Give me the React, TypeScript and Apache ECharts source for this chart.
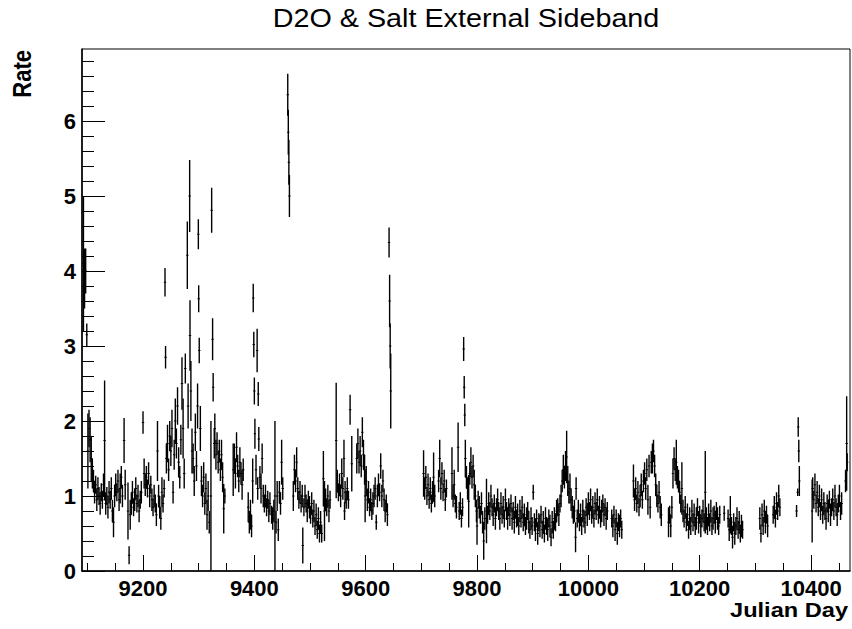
import React, { useEffect, useRef } from "react";
import * as echarts from "echarts";

// [Julian day, rate, error]
const periodA: [number, number, number][] = [
  [9093, 4.1, 0.9], [9095, 3.9, 0.4], [9097, 4.0, 0.3], [9099, 3.15, 0.15], [9101, 1.6, 0.5],
  [9103, 1.9, 0.25], [9105, 1.75, 0.3], [9107, 1.5, 0.3], [9109, 1.3, 0.2], [9111, 1.2, 0.15],
  [9113, 1.05, 0.15], [9115, 1.15, 0.12], [9117, 0.95, 0.15], [9119, 1.1, 0.15], [9121, 1.0, 0.12],
  [9123, 0.9, 0.15], [9125, 1.05, 0.12], [9127, 0.95, 0.12], [9129, 1.15, 0.15], [9131, 1.74, 0.8],
  [9133, 0.9, 0.15], [9135, 1.0, 0.12], [9137, 0.85, 0.15], [9139, 1.05, 0.15], [9141, 0.95, 0.12],
  [9143, 1.1, 0.15], [9145, 0.8, 0.15], [9147, 0.65, 0.2], [9149, 1.0, 0.15], [9151, 1.15, 0.15],
  [9153, 1.05, 0.12], [9155, 1.2, 0.15], [9157, 0.95, 0.15], [9159, 1.1, 0.2], [9161, 1.25, 0.15],
  [9163, 1.0, 0.15], [9166, 1.74, 0.3], [9168, 1.15, 0.2], [9173, 0.8, 0.38], [9175, 0.21, 0.12],
  [9177, 0.75, 0.2], [9179, 0.9, 0.15], [9181, 1.05, 0.15], [9183, 0.85, 0.12], [9185, 0.95, 0.15],
  [9187, 1.1, 0.15], [9189, 0.9, 0.12], [9191, 1.0, 0.15], [9193, 0.8, 0.15], [9195, 0.95, 0.12],
  [9197, 1.05, 0.15], [9200, 1.98, 0.15], [9202, 1.3, 0.2], [9204, 1.15, 0.15], [9206, 1.25, 0.15],
  [9208, 1.1, 0.12], [9210, 1.3, 0.15], [9212, 1.0, 0.15], [9214, 1.15, 0.12], [9216, 0.95, 0.15],
  [9218, 0.85, 0.12], [9220, 1.0, 0.15], [9222, 0.9, 0.12], [9224, 0.75, 0.15], [9226, 1.6, 0.4],
  [9228, 1.0, 0.15], [9230, 0.85, 0.15], [9232, 0.7, 0.15], [9234, 1.05, 0.2], [9236, 0.9, 0.12],
  [9238, 1.1, 0.12], [9239.5, 3.85, 0.19], [9240.5, 2.85, 0.15], [9242, 1.5, 0.2], [9244, 1.7, 0.25],
  [9246, 1.35, 0.15], [9248, 1.8, 0.2], [9250, 1.6, 0.2], [9252, 1.9, 0.25], [9254, 1.05, 0.15],
  [9256, 1.55, 0.2], [9258, 2.0, 0.3], [9260, 1.7, 0.2], [9262, 2.2, 0.25], [9264, 1.45, 0.2],
  [9266, 1.25, 0.15], [9268, 1.75, 0.2], [9270, 2.5, 0.35], [9272, 1.9, 0.4], [9274, 1.3, 0.2],
  [9276, 2.7, 0.2], [9279.6, 4.21, 0.45], [9281, 2.2, 0.3], [9283.8, 5.0, 0.48], [9284.4, 3.14, 0.47],
  [9286, 2.4, 0.4], [9288, 1.6, 0.3], [9290, 1.5, 0.2], [9292, 1.2, 0.2], [9294, 1.85, 0.25],
  [9296, 1.4, 0.2], [9298, 2.2, 0.3], [9299.4, 4.49, 0.2], [9300, 3.63, 0.18], [9301, 2.94, 0.17],
  [9303, 1.9, 0.3], [9305, 1.2, 0.2], [9307, 1.0, 0.15], [9309, 1.25, 0.2], [9311, 0.9, 0.15],
  [9313, 1.1, 0.2], [9315, 0.75, 0.2], [9317, 1.0, 0.2], [9319, 0.65, 0.15], [9322, 1.0, 1.0],
  [9323.3, 4.81, 0.3], [9325, 3.09, 0.28], [9326, 2.45, 0.19], [9328, 1.7, 0.2], [9329, 1.9, 0.2],
];

const periodB: [number, number, number][] = [
  [9331, 1.55, 0.2], [9333, 1.7, 0.15], [9335, 1.45, 0.15], [9337, 1.6, 0.15], [9339, 1.35, 0.15],
  [9341, 1.55, 0.2], [9343, 1.25, 0.2], [9345, 0.83, 0.33], [9347, 1.0, 0.1], [9362, 1.35, 0.35],
  [9364, 1.5, 0.2], [9366, 1.3, 0.2], [9368, 1.65, 0.2], [9370, 1.4, 0.15], [9372, 1.2, 0.15],
  [9374, 1.45, 0.2], [9376, 1.3, 0.15], [9378, 1.15, 0.2], [9380, 1.35, 0.15], [9389, 0.85, 0.2],
  [9391, 0.65, 0.15], [9393, 0.75, 0.2], [9395, 0.6, 0.15], [9397, 1.2, 0.3], [9398, 3.64, 0.19],
  [9399, 3.02, 0.17], [9400, 2.4, 0.18], [9401, 1.83, 0.2], [9403, 1.35, 0.2], [9405, 2.94, 0.29],
  [9406, 1.1, 0.15], [9407, 2.36, 0.16], [9408, 1.76, 0.16], [9410, 1.25, 0.15], [9412, 1.1, 0.2],
  [9414, 1.5, 0.2], [9416, 1.0, 0.15], [9418, 0.9, 0.12], [9420, 1.0, 0.15], [9422, 0.85, 0.12],
  [9424, 0.95, 0.12], [9426, 0.8, 0.15], [9428, 0.9, 0.15], [9431, 0.75, 0.12], [9433, 0.7, 0.15],
  [9435, 0.8, 0.15], [9437, 1.0, 1.0], [9439, 0.65, 0.15], [9441, 1.0, 0.2], [9443, 0.55, 0.15],
  [9445, 1.05, 0.15], [9447, 0.9, 0.15], [9449, 1.45, 0.3], [9451, 1.1, 0.15], [9460, 6.35, 0.28],
  [9461, 5.85, 0.3], [9462, 5.45, 0.3], [9463, 5.0, 0.28], [9470, 1.0, 0.2], [9472, 1.35, 0.2],
  [9474, 1.2, 0.15], [9476, 1.45, 0.2], [9478, 1.1, 0.15], [9480, 0.95, 0.12], [9482, 1.05, 0.15],
  [9484, 0.9, 0.12], [9486, 1.0, 0.15], [9487, 0.34, 0.24], [9489, 0.85, 0.12], [9491, 1.0, 0.15],
  [9493, 0.9, 0.12], [9495, 0.8, 0.15], [9497, 0.95, 0.12], [9499, 0.85, 0.15], [9501, 0.75, 0.12],
  [9503, 0.9, 0.15], [9505, 0.7, 0.12], [9507, 0.8, 0.15], [9509, 0.6, 0.12], [9511, 0.75, 0.15],
  [9513, 0.55, 0.12], [9515, 0.7, 0.15], [9517, 0.5, 0.12], [9519, 0.65, 0.15], [9521, 0.5, 0.12],
  [9524, 1.23, 0.37], [9526, 0.8, 0.4], [9528, 0.95, 0.15], [9530, 0.85, 0.12], [9532, 1.0, 0.15],
  [9534, 0.8, 0.15], [9536, 0.95, 0.12], [9547, 1.74, 0.77], [9549, 1.2, 0.15], [9551, 1.05, 0.12],
  [9553, 1.15, 0.15], [9555, 1.0, 0.15], [9557, 1.3, 0.2], [9559, 1.1, 0.15],
];

const periodC: [number, number, number][] = [
  [9561, 1.5, 0.25], [9562, 0.8, 0.12], [9563, 1.05, 0.15], [9565, 0.95, 0.12], [9567, 1.1, 0.15],
  [9569, 0.95, 0.12], [9572, 2.15, 0.2], [9575, 1.43, 0.37], [9584, 1.5, 0.2], [9586, 1.7, 0.2],
  [9588, 1.45, 0.15], [9590, 1.6, 0.2], [9592, 1.4, 0.15], [9594, 1.85, 0.2], [9596, 1.55, 0.2],
  [9598, 1.35, 0.2], [9599, 1.0, 0.35], [9601, 1.2, 0.2], [9603, 0.95, 0.15], [9605, 1.05, 0.15],
  [9607, 0.85, 0.12], [9609, 0.95, 0.15], [9611, 0.8, 0.12], [9613, 0.9, 0.15], [9615, 1.0, 0.15],
  [9617, 1.1, 0.15], [9619, 0.65, 0.1], [9621, 1.0, 0.15], [9623, 1.15, 0.15], [9625, 1.05, 0.12],
  [9627, 1.4, 0.17], [9629, 1.0, 0.15], [9631, 1.2, 0.15], [9633, 0.95, 0.15], [9635, 0.8, 0.15],
  [9637, 0.9, 0.12], [9639, 0.75, 0.15], [9642, 4.38, 0.2], [9643, 3.6, 0.35], [9644, 3.0, 0.3],
  [9645, 2.4, 0.5],
];

const periodD: [number, number, number][] = [
  [9704, 1.3, 0.31], [9706, 1.1, 0.15], [9708, 1.25, 0.15], [9710, 1.0, 0.12], [9712, 1.15, 0.15],
  [9714, 0.95, 0.12], [9716, 1.1, 0.15], [9718, 0.9, 0.12], [9720, 1.05, 0.15], [9722, 1.25, 0.33],
  [9724, 1.0, 0.15], [9731, 1.2, 0.15], [9733, 1.5, 0.25], [9735, 1.1, 0.15], [9737, 1.3, 0.15],
  [9739, 1.05, 0.12], [9741, 1.2, 0.15], [9743, 0.95, 0.15], [9745, 1.1, 0.12], [9755, 1.3, 0.35],
  [9757, 1.0, 0.15], [9759, 1.15, 0.2], [9761, 0.9, 0.12], [9763, 0.85, 0.15], [9766, 1.65, 0.33],
  [9768, 0.8, 0.12], [9770, 0.9, 0.15], [9772, 0.7, 0.12], [9774, 0.85, 0.12], [9776, 2.96, 0.16],
  [9777, 2.45, 0.15], [9778, 2.08, 0.15], [9779, 1.5, 0.25], [9781, 1.25, 0.15], [9783, 1.1, 0.15],
  [9785, 0.93, 0.35], [9787, 1.3, 0.15], [9789, 1.45, 0.2], [9791, 1.25, 0.15], [9793, 1.4, 0.15],
  [9795, 1.15, 0.2],
];

const periodE: [number, number, number][] = [
  [9797, 1.0, 0.15], [9799, 0.8, 0.15], [9800, 0.6, 0.25], [9802, 0.95, 0.12], [9804, 0.85, 0.15],
  [9806, 0.75, 0.12], [9808, 0.9, 0.15], [9810, 0.65, 0.15], [9812, 0.4, 0.25], [9814, 0.7, 0.15],
  [9817, 0.8, 0.43], [9819, 0.75, 0.12], [9821, 0.9, 0.15], [9823, 0.8, 0.12], [9825, 1.0, 0.15],
  [9827, 0.85, 0.12], [9829, 0.75, 0.15], [9831, 0.9, 0.12], [9833, 0.7, 0.15], [9835, 0.85, 0.12],
  [9837, 0.95, 0.15], [9839, 0.8, 0.12], [9841, 0.7, 0.15], [9843, 0.9, 0.15], [9845, 0.75, 0.12],
  [9847, 0.85, 0.15], [9849, 0.7, 0.12], [9851, 0.95, 0.15], [9853, 0.8, 0.12], [9855, 0.7, 0.15],
  [9857, 0.85, 0.12], [9859, 0.75, 0.15], [9861, 0.9, 0.12], [9863, 0.7, 0.15], [9865, 0.8, 0.12],
  [9867, 0.65, 0.15], [9869, 0.85, 0.15], [9871, 0.7, 0.12], [9873, 0.75, 0.15], [9875, 0.6, 0.12],
  [9877, 0.8, 0.15], [9879, 0.7, 0.12], [9881, 0.85, 0.15], [9883, 0.65, 0.12], [9885, 0.75, 0.15],
  [9887, 0.6, 0.12], [9889, 0.7, 0.15], [9891, 0.8, 0.12], [9893, 0.65, 0.15], [9895, 0.55, 0.12],
  [9897, 0.7, 0.15], [9899, 0.6, 0.12], [9901, 1.05, 0.1], [9903, 0.65, 0.12], [9905, 0.55, 0.15],
  [9907, 0.7, 0.12], [9909, 0.5, 0.15], [9911, 0.65, 0.12], [9913, 0.6, 0.15], [9915, 0.75, 0.12],
  [9917, 0.55, 0.12], [9919, 0.65, 0.15], [9921, 0.5, 0.12], [9923, 0.7, 0.15], [9925, 0.6, 0.12],
  [9927, 0.55, 0.15], [9929, 0.7, 0.12], [9931, 0.6, 0.15], [9933, 0.45, 0.12], [9935, 0.65, 0.15],
  [9937, 0.55, 0.12], [9939, 0.7, 0.15], [9941, 0.65, 0.12], [9943, 0.8, 0.15], [9945, 0.85, 0.12],
  [9947, 0.75, 0.15], [9949, 0.9, 0.12], [9951, 1.0, 0.15], [9953, 1.2, 0.15], [9955, 1.35, 0.2],
  [9957, 1.25, 0.15], [9959, 1.4, 0.2], [9961, 1.52, 0.35], [9963, 1.2, 0.2], [9965, 1.05, 0.15],
  [9967, 1.1, 0.2], [9969, 0.95, 0.15], [9971, 0.85, 0.15], [9973, 0.75, 0.12], [9975, 0.8, 0.15],
  [9977, 0.45, 0.2], [9978, 1.1, 0.15], [9980, 0.7, 0.12], [9982, 0.8, 0.15], [9984, 0.65, 0.12],
  [9986, 0.75, 0.15], [9988, 0.6, 0.12], [9990, 0.8, 0.15], [9992, 0.7, 0.12], [9994, 0.65, 0.15],
  [9996, 0.85, 0.12], [9998, 0.75, 0.15], [10000, 0.9, 0.15], [10002, 0.8, 0.12], [10004, 0.95, 0.15],
  [10006, 0.75, 0.12], [10008, 0.85, 0.15], [10010, 0.7, 0.12], [10012, 0.9, 0.15], [10014, 0.8, 0.12],
  [10016, 0.95, 0.15], [10018, 0.75, 0.12], [10020, 0.85, 0.15], [10022, 0.7, 0.12], [10024, 0.8, 0.15],
  [10026, 0.9, 0.12], [10028, 0.75, 0.15], [10030, 0.85, 0.12], [10032, 0.7, 0.15], [10034, 0.8, 0.12],
  [10042, 0.7, 0.12], [10044, 0.6, 0.15], [10046, 0.75, 0.12], [10048, 0.55, 0.15], [10050, 0.7, 0.12],
  [10052, 0.5, 0.15], [10054, 0.65, 0.12], [10056, 0.6, 0.15], [10058, 0.7, 0.12], [10060, 0.55, 0.12],
];

const periodF: [number, number, number][] = [
  [10081, 1.2, 0.22], [10083, 0.95, 0.15], [10085, 1.1, 0.15], [10087, 0.9, 0.12], [10089, 1.05, 0.15],
  [10091, 0.85, 0.12], [10093, 1.0, 0.15], [10095, 1.15, 0.15], [10097, 0.95, 0.12], [10099, 1.2, 0.15],
  [10101, 1.3, 0.15], [10103, 1.1, 0.15], [10105, 1.35, 0.15], [10107, 0.95, 0.2], [10109, 1.4, 0.15],
  [10111, 0.85, 0.15], [10113, 1.45, 0.15], [10115, 1.5, 0.2], [10117, 1.6, 0.15], [10119, 1.4, 0.15],
  [10121, 1.15, 0.15], [10123, 1.0, 0.15], [10125, 0.9, 0.12], [10127, 1.05, 0.15], [10129, 0.85, 0.15],
  [10131, 0.75, 0.15], [10144, 0.65, 0.2], [10146, 0.75, 0.12], [10148, 0.6, 0.15], [10150, 0.85, 0.15],
  [10152, 1.3, 0.2], [10154, 1.5, 0.15], [10156, 1.35, 0.15], [10158, 1.45, 0.3], [10160, 1.25, 0.15],
  [10162, 1.2, 0.15], [10164, 1.05, 0.15], [10166, 0.9, 0.12], [10168, 1.1, 0.35], [10170, 0.8, 0.15],
  [10172, 0.7, 0.12], [10174, 0.85, 0.15], [10176, 0.65, 0.12], [10178, 0.75, 0.15], [10180, 0.55, 0.12],
  [10182, 0.7, 0.15], [10184, 0.6, 0.12], [10186, 0.8, 0.15], [10188, 0.65, 0.12], [10190, 0.75, 0.15],
  [10192, 0.6, 0.12], [10194, 0.7, 0.15], [10196, 0.85, 0.12], [10198, 0.65, 0.15], [10200, 0.75, 0.12],
  [10202, 0.6, 0.15], [10204, 0.7, 0.12], [10206, 0.8, 0.15], [10208, 0.65, 0.12], [10210, 1.05, 0.55],
  [10212, 0.7, 0.15], [10214, 0.6, 0.12], [10216, 0.75, 0.15], [10218, 0.65, 0.12], [10220, 0.8, 0.15],
  [10222, 0.6, 0.12], [10224, 0.7, 0.15], [10226, 0.75, 0.12], [10228, 0.65, 0.15], [10230, 0.8, 0.12],
  [10232, 0.7, 0.15], [10234, 0.6, 0.12], [10236, 0.75, 0.12], [10244, 0.77, 0.1], [10251, 0.7, 0.12],
  [10253, 0.55, 0.15], [10255, 0.75, 0.25], [10257, 0.6, 0.12], [10259, 0.45, 0.15], [10261, 0.65, 0.12],
  [10263, 0.5, 0.15], [10265, 0.6, 0.12], [10267, 0.7, 0.15], [10269, 0.55, 0.12], [10271, 0.65, 0.15],
  [10273, 0.5, 0.12], [10275, 0.6, 0.15], [10277, 0.55, 0.12],
];

const periodG: [number, number, number][] = [
  [10308, 0.7, 0.15], [10310, 0.5, 0.12], [10312, 0.75, 0.15], [10314, 0.6, 0.12], [10316, 0.8, 0.15],
  [10318, 0.65, 0.15], [10320, 0.75, 0.12], [10322, 0.6, 0.15], [10332, 0.75, 0.12], [10334, 0.85, 0.15],
  [10336, 0.7, 0.12], [10338, 0.9, 0.15], [10340, 0.8, 0.12], [10342, 1.0, 0.15], [10344, 0.85, 0.12],
  [10374, 0.8, 0.08], [10376, 1.05, 0.05], [10377, 1.92, 0.13], [10378, 1.6, 0.15], [10379, 1.2, 0.2],
  [10402, 0.8, 0.42], [10403, 1.1, 0.15], [10405, 0.95, 0.12], [10407, 1.15, 0.15], [10409, 0.9, 0.12],
  [10411, 1.05, 0.15], [10413, 0.85, 0.12], [10415, 1.0, 0.15], [10417, 0.8, 0.12], [10419, 0.95, 0.15],
  [10421, 0.75, 0.12], [10423, 0.9, 0.15], [10425, 0.8, 0.12], [10427, 0.7, 0.15], [10429, 0.9, 0.12],
  [10431, 0.8, 0.15], [10433, 0.95, 0.12], [10435, 0.75, 0.15], [10437, 0.85, 0.12], [10439, 0.95, 0.15],
  [10441, 0.8, 0.12], [10443, 1.0, 0.15], [10445, 0.85, 0.12], [10447, 0.75, 0.15], [10449, 0.9, 0.12],
  [10451, 1.0, 0.15], [10453, 0.8, 0.12], [10455, 0.9, 0.15], [10462, 1.2, 0.15], [10464, 1.7, 0.63],
  [10465, 1.45, 0.12],
];

const xMajorTicks = [9200, 9400, 9600, 9800, 10000, 10200, 10400];
const xMinorTicks = [
  9100, 9150, 9250, 9300, 9350, 9450, 9500, 9550, 9650, 9700, 9750, 9850, 9900, 9950,
  10050, 10100, 10150, 10250, 10300, 10350, 10450,
];
const yMajorTicks = [0, 1, 2, 3, 4, 5, 6];
const yMinorTicks = [
  0.2, 0.4, 0.6, 0.8, 1.2, 1.4, 1.6, 1.8, 2.2, 2.4, 2.6, 2.8, 3.2, 3.4, 3.6, 3.8,
  4.2, 4.4, 4.6, 4.8, 5.2, 5.4, 5.6, 5.8, 6.2, 6.4, 6.6, 6.8,
];

const X_MIN = 9090.4;
const X_MAX = 10470;
const Y_MIN = 0;
const Y_MAX = 6.96;

const FONT = "'Liberation Sans', Arial, Helvetica, sans-serif";

export default function App() {
  const ref = useRef<HTMLDivElement>(null);

  useEffect(() => {
    if (!ref.current) return;
    const chart = echarts.init(ref.current, undefined, { renderer: "svg", width: 852, height: 629 });
    const data = [...periodA, ...periodB, ...periodC, ...periodD, ...periodE, ...periodF, ...periodG];

    const baseAxisLine = { show: true, lineStyle: { color: "#000", width: 1.5 } };

    chart.setOption({
      animation: false,
      backgroundColor: "#fff",
      grid: {
        left: 82,
        right: 2,
        top: 49,
        bottom: 58,
        show: true,
        borderColor: "#000",
        borderWidth: 1,
        backgroundColor: "transparent",
      },
      xAxis: [
        {
          type: "value",
          min: X_MIN,
          max: X_MAX,
          position: "bottom",
          axisLine: { ...baseAxisLine, onZero: false },
          splitLine: { show: false },
          axisTick: {
            show: true,
            inside: true,
            length: 16,
            customValues: xMajorTicks,
            lineStyle: { color: "#000", width: 1 },
          },
          axisLabel: {
            show: true,
            customValues: xMajorTicks,
            margin: 6,
            color: "#000",
            fontFamily: FONT,
            fontWeight: "bold",
            fontSize: 22,
            formatter: (v: number) => String(v),
          },
        },
        {
          type: "value",
          min: X_MIN,
          max: X_MAX,
          position: "bottom",
          axisLine: { show: false, onZero: false },
          splitLine: { show: false },
          axisTick: {
            show: true,
            inside: true,
            length: 8,
            customValues: xMinorTicks,
            lineStyle: { color: "#000", width: 1 },
          },
          axisLabel: { show: false },
        },
      ],
      yAxis: [
        {
          type: "value",
          min: Y_MIN,
          max: Y_MAX,
          position: "left",
          axisLine: { ...baseAxisLine, onZero: false },
          splitLine: { show: false },
          axisTick: {
            show: true,
            inside: true,
            length: 23,
            customValues: yMajorTicks,
            lineStyle: { color: "#000", width: 1 },
          },
          axisLabel: {
            show: true,
            customValues: yMajorTicks,
            margin: 6,
            color: "#000",
            fontFamily: FONT,
            fontWeight: "bold",
            fontSize: 22,
            formatter: (v: number) => String(v),
          },
        },
        {
          type: "value",
          min: Y_MIN,
          max: Y_MAX,
          position: "left",
          axisLine: { show: false, onZero: false },
          splitLine: { show: false },
          axisTick: {
            show: true,
            inside: true,
            length: 12,
            customValues: yMinorTicks,
            lineStyle: { color: "#000", width: 1 },
          },
          axisLabel: { show: false },
        },
      ],
      series: [
        {
          type: "custom",
          name: "Rate",
          xAxisIndex: 0,
          yAxisIndex: 0,
          clip: true,
          data,
          encode: { x: 0, y: 1 },
          renderItem: (_params: any, api: any) => {
            const x = api.value(0);
            const v = api.value(1);
            const e = api.value(2);
            const top = api.coord([x, v + e]);
            const bot = api.coord([x, Math.max(v - e, Y_MIN)]);
            const c = api.coord([x, v]);
            return {
              type: "group",
              children: [
                {
                  type: "line",
                  shape: { x1: top[0], y1: top[1], x2: bot[0], y2: bot[1] },
                  style: { stroke: "#000", lineWidth: 1.4 },
                },
                {
                  type: "line",
                  shape: { x1: c[0] - 1.2, y1: c[1], x2: c[0] + 1.2, y2: c[1] },
                  style: { stroke: "#000", lineWidth: 1 },
                },
              ],
            };
          },
        },
      ],
      graphic: [
        {
          type: "text",
          x: 466,
          y: 18.5,
          scaleX: 1.15,
          style: {
            text: "D2O & Salt External Sideband",
            fontFamily: FONT,
            fontSize: 25,
            fill: "#000",
            align: "center",
            verticalAlign: "middle",
          },
        },
        {
          type: "text",
          x: 848,
          y: 610,
          scaleX: 1.18,
          style: {
            text: "Julian Day",
            fontFamily: FONT,
            fontWeight: "bold",
            fontSize: 20,
            fill: "#000",
            align: "right",
            verticalAlign: "middle",
          },
        },
        {
          type: "text",
          x: 22,
          y: 50,
          rotation: Math.PI / 2,
          scaleY: 1.17,
          style: {
            text: "Rate",
            fontFamily: FONT,
            fontWeight: "bold",
            fontSize: 22,
            fill: "#000",
            align: "right",
            verticalAlign: "middle",
          },
        },
      ],
    });

    return () => {
      chart.dispose();
    };
  }, []);

  return (
    <div
      ref={ref}
      style={{ position: "fixed", left: 0, top: 0, width: 852, height: 629, background: "#fff" }}
    />
  );
}
